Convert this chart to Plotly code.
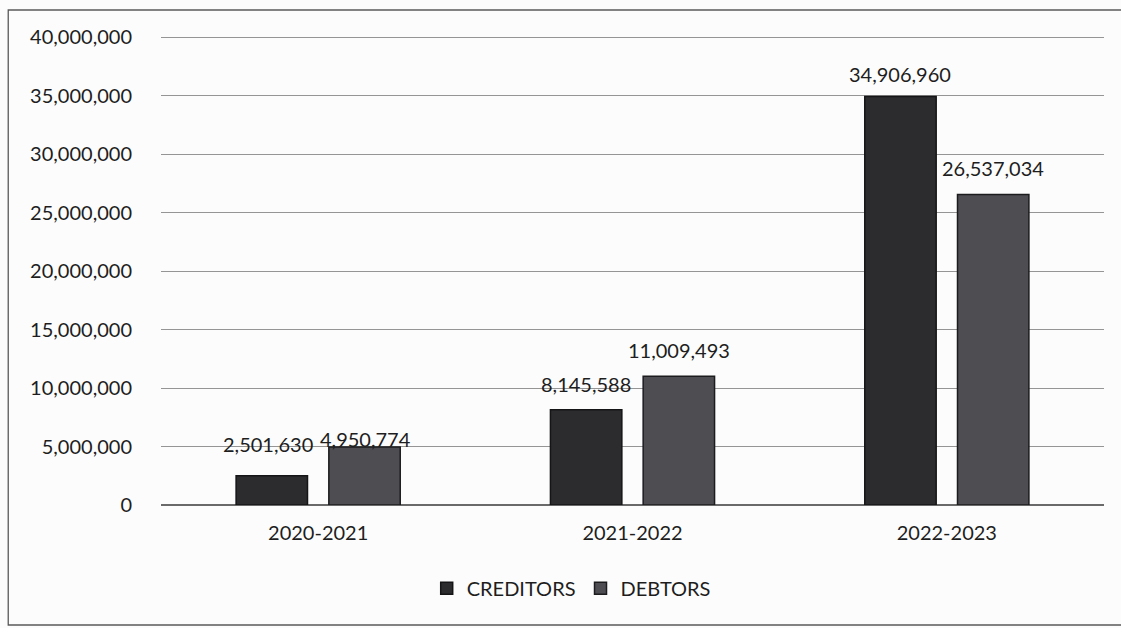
import plotly.graph_objects as go

years = ["2020-2021", "2021-2022", "2022-2023"]
creditors = [2501630, 8145588, 34906960]
debtors = [4950774, 11009493, 26537034]
y_ticks = [0, 5000000, 10000000, 15000000, 20000000, 25000000, 30000000, 35000000, 40000000]

# label placement relative to each bar top (px): (dx, dy)
creditor_label_shift = [(-4, 32), (0, 26), (0, 23)]
debtor_label_shift = [(1, 8), (0, 26), (0, 27)]

font_family = "Lato, 'Open Sans', sans-serif"
half_slot = 46.4  # pixel offset of each bar centre from its category centre

fig = go.Figure()
fig.add_trace(go.Bar(
    name="CREDITORS", x=years, y=creditors,
    marker=dict(color="#2c2c2f", line=dict(color="#151517", width=1.5)),
))
fig.add_trace(go.Bar(
    name="DEBTORS", x=years, y=debtors,
    marker=dict(color="#4d4d52", line=dict(color="#1c1c1f", width=1.5)),
))

for series, shifts, side in ((creditors, creditor_label_shift, -1),
                             (debtors, debtor_label_shift, 1)):
    for yr, val, (dx, dy) in zip(years, series, shifts):
        fig.add_annotation(
            x=yr, y=val, text=f"{val:,}", showarrow=False,
            xanchor="center", yanchor="middle",
            xshift=side * half_slot + dx, yshift=dy,
            font=dict(size=20, color="#1e1e1e"),
        )

fig.update_layout(
    width=1121, height=628,
    margin=dict(l=161, r=17, t=34, b=123),
    paper_bgcolor="#fcfcfc", plot_bgcolor="#fcfcfc",
    barmode="group", bargap=0.41, bargroupgap=0.23,
    font=dict(family=font_family, size=20, color="#1e1e1e"),
    showlegend=True,
    legend=dict(orientation="h", x=0.435, xanchor="center", y=-0.177, yanchor="middle",
                font=dict(size=20), itemwidth=30, bgcolor="rgba(0,0,0,0)"),
    shapes=[dict(type="rect", xref="paper", yref="paper",
                 x0=-0.162, x1=1.025, y0=-0.2548, y1=1.0510,
                 line=dict(color="#5a5a5a", width=1.3))],
)
fig.update_xaxes(showgrid=False, showline=False, ticks="", tickfont=dict(size=20),
                 ticklabelstandoff=14)
fig.update_yaxes(range=[0, 40256410], tickvals=y_ticks, tickformat=",",
                 showgrid=True, gridcolor="#959595", gridwidth=1,
                 zeroline=True, zerolinecolor="#6a6a6a", zerolinewidth=1.5,
                 showline=False, tickfont=dict(size=20), ticklabelstandoff=28)

fig.write_html("out.html")
